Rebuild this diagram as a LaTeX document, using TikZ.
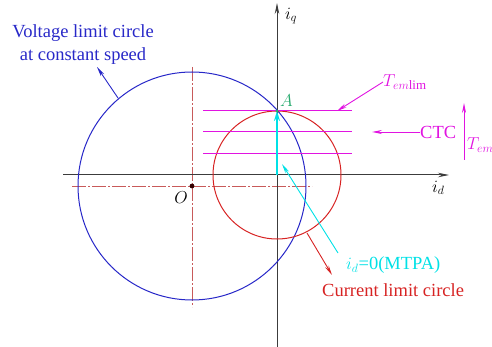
\documentclass[tikz,border=0pt]{standalone}
\usepackage{fontspec}
\setmainfont{Liberation Serif}
\usetikzlibrary{arrows.meta}
\definecolor{vblue}{RGB}{40,40,200}
\definecolor{cred}{RGB}{215,35,35}
\definecolor{mag}{RGB}{225,20,225}
\definecolor{cya}{RGB}{0,225,230}
\definecolor{agreen}{RGB}{40,170,110}
\definecolor{axgray}{RGB}{60,60,60}
\definecolor{dred}{RGB}{200,90,90}
\begin{document}
\begin{tikzpicture}[x=1pt,y=-1pt,
  every node/.style={font=\fontsize{18.5}{22}\selectfont},
  tip/.style={-{Stealth[length=10pt,width=4pt]}},
  axis/.style={axgray,line width=1pt,-{Stealth[length=11pt,width=4.5pt]}},
  dashline/.style={dred,line width=0.7pt,dash pattern=on 14pt off 2pt on 2pt off 2pt},
  ctc/.style={mag,line width=1pt}]
\useasboundingbox (0,0) rectangle (492,347);
% named points
\coordinate (O) at (192,186);
\coordinate (orig) at (277,175);
\coordinate (A) at (277,111);
% dashed center lines
\draw[dashline] (72,186) -- (312,186);
\draw[dashline] (192,67) -- (192,307);
% axes
\draw[axis] (63,175) -- (449,175);
\draw[axis] (277,347) -- (277,3);
% circles
\draw[vblue,line width=1pt] (O) circle[radius=114];
\draw[cred,line width=1pt] (orig) circle[radius=64];
% CTC lines
\draw[ctc] (203,111) -- (352,111);
\draw[ctc] (203,132) -- (352,132);
\draw[ctc] (203,154) -- (352,154);
% cyan arrow
\draw[cya,line width=2.6pt,-{Stealth[length=10pt,width=6pt]}] (orig) -- (A);
% O point
\fill[black!80!red] (O) circle[radius=2.4];
\fill[agreen] (A) circle[radius=1.6];
% labels
\node[anchor=west,inner sep=0] (iq) at (285,16) {$i_q$};
\node[anchor=west,inner sep=0] (id) at (432,188) {$i_d$};
\node[inner sep=0] (Olab) at (181,198) {$O$};
\node[agreen,anchor=west,inner sep=0] (Alab) at (280,101) {$A$};
\node[vblue,align=center,inner sep=1pt] (vlc) at (83,45) {Voltage limit circle\\[1pt]at constant speed};
\coordinate (vlcarc) at (118,98);
\draw[vblue,line width=0.9pt,tip] (vlcarc) -- (97,67);
\node[mag,anchor=west,inner sep=0] (Tlim) at (383,82) {$T_{em\mathrm{lim}}$};
\coordinate (Tlimend) at (337,111);
\draw[mag,line width=0.9pt,tip] (Tlim.west) -- (Tlimend);
\node[mag,anchor=west,inner sep=0] (CTC) at (420,132) {CTC};
\coordinate (ctcend) at (372,132);
\draw[mag,line width=0.9pt,tip] (CTC.west) -- (ctcend);
\coordinate (tb) at (464,160);
\coordinate (tt) at (464,103);
\draw[mag,line width=0.9pt,tip] (tb) -- (tt);
\node[mag,anchor=west,inner sep=0] (Tem) at (467,145) {$T_{em}$};
\node[cya,anchor=west,inner sep=0] (mtpa) at (346,265) {$i_d$=0(MTPA)};
\coordinate (mtpaend) at (282,164);
\draw[cya,line width=0.9pt,tip] (338,253) -- (mtpaend);
\node[cred,anchor=west,inner sep=0] (cur) at (322,290) {Current limit circle};
\coordinate (curst) at (307,233);
\draw[cred,line width=0.9pt,tip] (curst) -- (332,275);
\end{tikzpicture}
\end{document}
